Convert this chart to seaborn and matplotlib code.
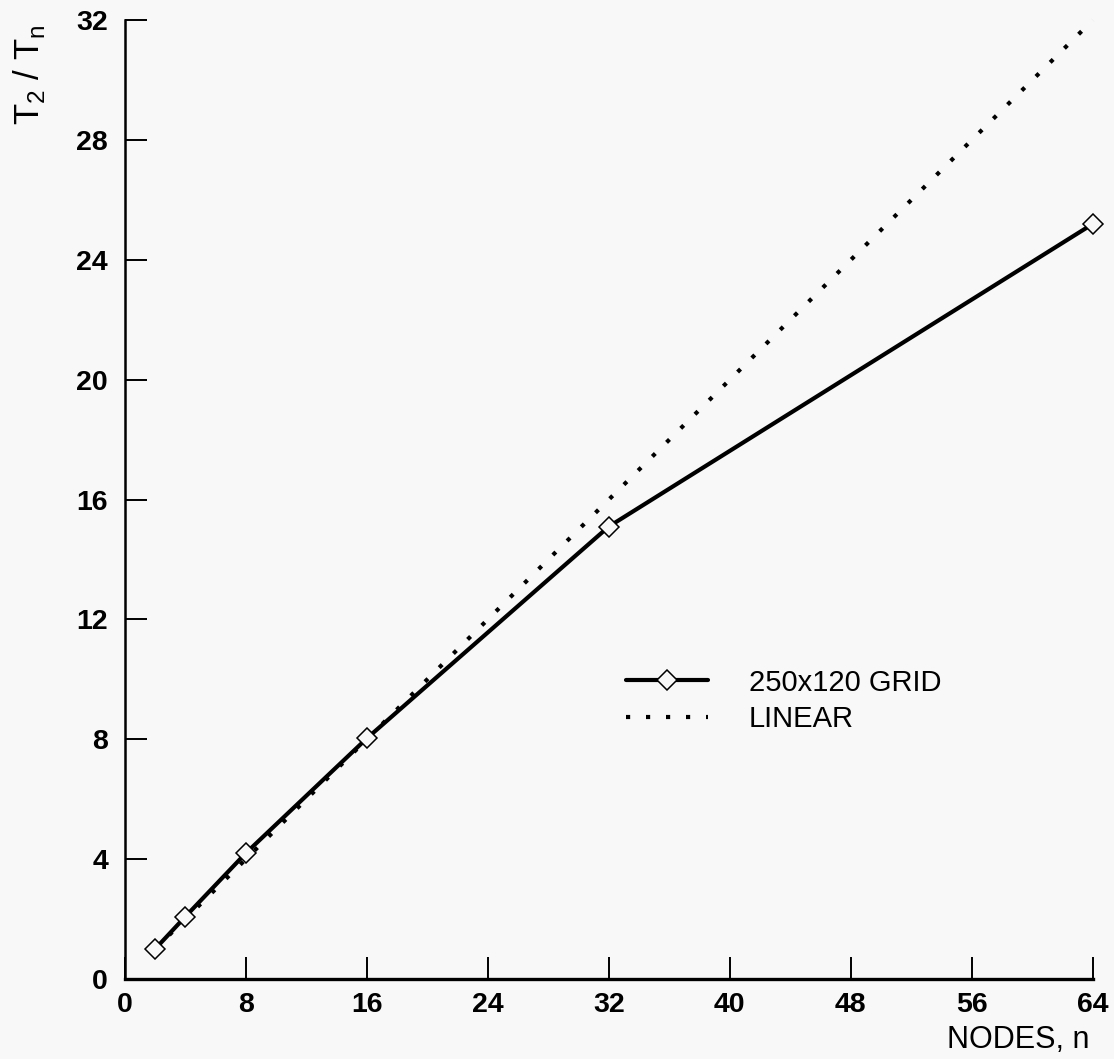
import numpy as np
import pandas as pd
import matplotlib
matplotlib.use("Agg")
import matplotlib.pyplot as plt
import seaborn as sns

# data
nodes = [2, 4, 8, 16, 32, 64]
speedup_grid = [1.0, 2.08, 4.2, 8.03, 15.1, 25.2]
speedup_linear = [1, 2, 4, 8, 16, 32]
x_ticks = [0, 8, 16, 24, 32, 40, 48, 56, 64]
y_ticks = [0, 4, 8, 12, 16, 20, 24, 28, 32]

df = pd.DataFrame({"n": nodes, "grid": speedup_grid, "linear": speedup_linear})

sns.set_style("ticks")
plt.rcParams["font.family"] = ["Liberation Sans", "DejaVu Sans"]
plt.rcParams["mathtext.fontset"] = "custom"
plt.rcParams["mathtext.rm"] = "Liberation Sans"
for key in ["text.color", "xtick.color", "ytick.color", "axes.labelcolor", "axes.edgecolor"]:
    plt.rcParams[key] = "black"
bg = "#f8f8f8"

fig = plt.figure(figsize=(11.14, 10.59), dpi=100, facecolor=bg)
ax = fig.add_axes([0.112, 0.0755, 0.869, 0.9055], facecolor=bg)

sns.lineplot(data=df, x="n", y="grid", ax=ax, color="black", linewidth=3.0,
             marker="D", markersize=10, markerfacecolor=bg, markeredgecolor="black",
             markeredgewidth=1.1, label="250x120 GRID", clip_on=False, zorder=3)
sns.lineplot(data=df, x="n", y="linear", ax=ax, color="black", linewidth=3.0,
             linestyle=(0, (1, 3.8)), label="LINEAR", clip_on=False, zorder=2)

ax.set_xlim(0, 64)
ax.set_ylim(0, 32)
ax.set_xticks(x_ticks)
ax.set_yticks(y_ticks)
ax.tick_params(direction="in", length=16, width=1.4, labelsize=20.5, color="black")
ax.tick_params(axis="y", pad=12)
ax.tick_params(axis="x", pad=9)
for lab in ax.get_xticklabels() + ax.get_yticklabels():
    lab.set_fontweight("bold")

sns.despine(ax=ax)
ax.spines["bottom"].set_linewidth(2.4)
ax.spines["left"].set_linewidth(1.8)

ax.set_xlabel("")
ax.set_ylabel("")
fig.text(0.978, 0.018, "NODES, n", fontsize=22, ha="right", va="center")
fig.text(0.026, 0.929, r"T$_\mathrm{2}$ / T$_\mathrm{n}$", fontsize=25, rotation=90,
         ha="center", va="center")

ax.legend(loc="center left", bbox_to_anchor=(0.491, 0.29), frameon=False, fontsize=21,
          handlelength=2.8, handletextpad=1.4, labelspacing=0.3)

fig.savefig("out.png", dpi=100, facecolor=bg)
